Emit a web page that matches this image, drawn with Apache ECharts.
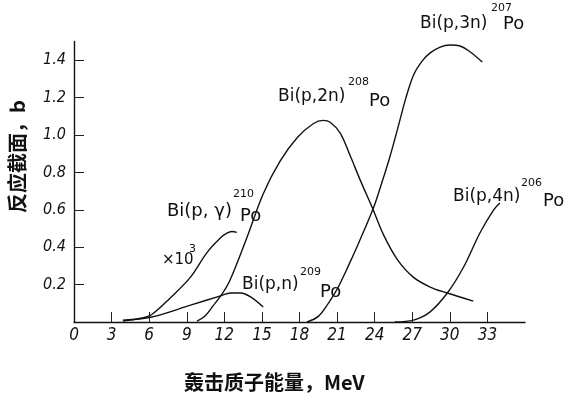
<!DOCTYPE html>
<html>
<head>
<meta charset="utf-8">
<script src="https://cdn.jsdelivr.net/npm/echarts@6/dist/echarts.min.js"></script>
<style>html,body{margin:0;padding:0;background:#fff}#c{width:565px;height:394px}</style>
</head>
<body>
<div id="c"></div>
<script>
// Data (energy in MeV, cross-section in barns)
const xTickValues = [3, 6, 9, 12, 15, 18, 21, 24, 27, 30, 33];
const xLabelValues = [0, 3, 6, 9, 12, 15, 18, 21, 24, 27, 30, 33];
const yTickValues = [0.2, 0.4, 0.6, 0.8, 1.0, 1.2, 1.4];

const pGammaE = [3.9, 5.3, 6.2, 7.7, 9.3, 10.6, 11.7, 12.2, 12.6, 13.0];
const pGammaV = [0.005, 0.02, 0.04, 0.13, 0.24, 0.37, 0.45, 0.475, 0.484, 0.479];

const pNE = [3.9, 6.2, 9.3, 11.7, 12.5, 13.3, 14.1, 15.1];
const pNV = [0.01, 0.027, 0.09, 0.14, 0.155, 0.155, 0.134, 0.08];

const p2nE = [9.82, 10.46, 11.1, 11.82, 12.46, 13.82, 15.1, 16.45, 17.81, 19.09, 19.9, 20.45, 21.25, 22.04, 22.84, 23.88, 24.68, 25.8, 27.08, 28.43, 29.79, 31.87];
const p2nV = [0.005, 0.032, 0.086, 0.15, 0.225, 0.455, 0.685, 0.86, 0.985, 1.06, 1.078, 1.068, 1.01, 0.89, 0.76, 0.60, 0.47, 0.335, 0.24, 0.187, 0.155, 0.112];

const p3nE = [18.6, 19.5, 20.3, 21.0, 21.9, 22.8, 23.9, 24.5, 25.2, 25.9, 26.5, 27.1, 27.8, 28.43, 29.23, 30.0, 30.8, 31.63, 32.59];
const p3nV = [0, 0.03, 0.10, 0.175, 0.30, 0.435, 0.61, 0.73, 0.88, 1.05, 1.20, 1.32, 1.396, 1.439, 1.47, 1.481, 1.476, 1.444, 1.39];

const p4nE = [25.6, 27.1, 28.4, 29.8, 31.1, 32.4, 33.5, 34.0];
const p4nV = [0, 0.01, 0.053, 0.155, 0.294, 0.476, 0.6, 0.636];

const pairs = (xs, ys) => xs.map((x, i) => [x, ys[i]]);

const chart = echarts.init(document.getElementById('c'), null, {renderer: 'canvas'});
const lineSeries = (name, data) => ({
  name, type: 'line', data, smooth: 0.35, showSymbol: false, symbol: 'none',
  lineStyle: {color: '#111', width: 1.4}, silent: true, animation: false
});
const handFont = 'DejaVu Sans';
const txt = (left, top, text, size) => ({
  type: 'text', left, top,
  style: {text, font: `${size}px "${handFont}"`, fill: '#111'}
});

chart.setOption({
  animation: false,
  backgroundColor: '#fff',
  grid: {left: 74, right: 40, top: 41.5, bottom: 72},
  xAxis: {
    type: 'value', min: 0, max: 36,
    axisLine: {show: true, onZero: false, lineStyle: {color: '#111', width: 1.4}},
    axisTick: {show: true, inside: true, length: 10, customValues: xTickValues, lineStyle: {color: '#222', width: 1}},
    axisLabel: {customValues: xLabelValues, fontStyle: 'italic', fontSize: 17, color: '#111', margin: 5, fontFamily: 'DejaVu Sans Condensed, DejaVu Sans'},
    splitLine: {show: false}
  },
  yAxis: {
    type: 'value', min: 0, max: 1.5,
    axisLine: {show: true, lineStyle: {color: '#111', width: 1.4}},
    axisTick: {show: true, inside: true, length: 10, customValues: yTickValues, lineStyle: {color: '#222', width: 1}},
    axisLabel: {customValues: yTickValues, fontStyle: 'italic', fontSize: 16, color: '#111', margin: 8,
      fontFamily: 'DejaVu Sans Condensed, DejaVu Sans', formatter: v => v.toFixed(1)},
    splitLine: {show: false}
  },
  series: [
    lineSeries('Bi(p,γ)210Po ×10³', pairs(pGammaE, pGammaV)),
    lineSeries('Bi(p,n)209Po', pairs(pNE, pNV)),
    lineSeries('Bi(p,2n)208Po', pairs(p2nE, p2nV)),
    lineSeries('Bi(p,3n)207Po', pairs(p3nE, p3nV)),
    lineSeries('Bi(p,4n)206Po', pairs(p4nE, p4nV))
  ],
  graphic: [
    // axis titles
    {type: 'text', left: 7, top: 100, rotation: Math.PI / 2, originX: 0, originY: 0,
     style: {text: '反应截面，b', font: 'bold 20px "Noto Sans CJK SC"', fill: '#111'}},
    {type: 'text', left: 184, top: 372,
     style: {text: '轰击质子能量，MeV', font: 'bold 20px "Noto Sans CJK SC"', fill: '#111'}},
    // curve annotations
    txt(167, 202, 'Bi(p, γ)', 18), txt(233, 189, '210', 11), txt(240, 207, 'Po', 18),
    txt(162, 253, '×10', 15), txt(189, 244, '3', 11),
    txt(242, 276, 'Bi(p,n)', 17), txt(300, 267, '209', 11), txt(320, 283, 'Po', 18),
    txt(278, 88, 'Bi(p,2n)', 17), txt(348, 77, '208', 11), txt(369, 92, 'Po', 18),
    txt(420, 15, 'Bi(p,3n)', 17), txt(491, 3, '207', 11), txt(503, 15, 'Po', 18),
    txt(453, 188, 'Bi(p,4n)', 17), txt(521, 178, '206', 11), txt(543, 192, 'Po', 18)
  ]
});
</script>
</body>
</html>
